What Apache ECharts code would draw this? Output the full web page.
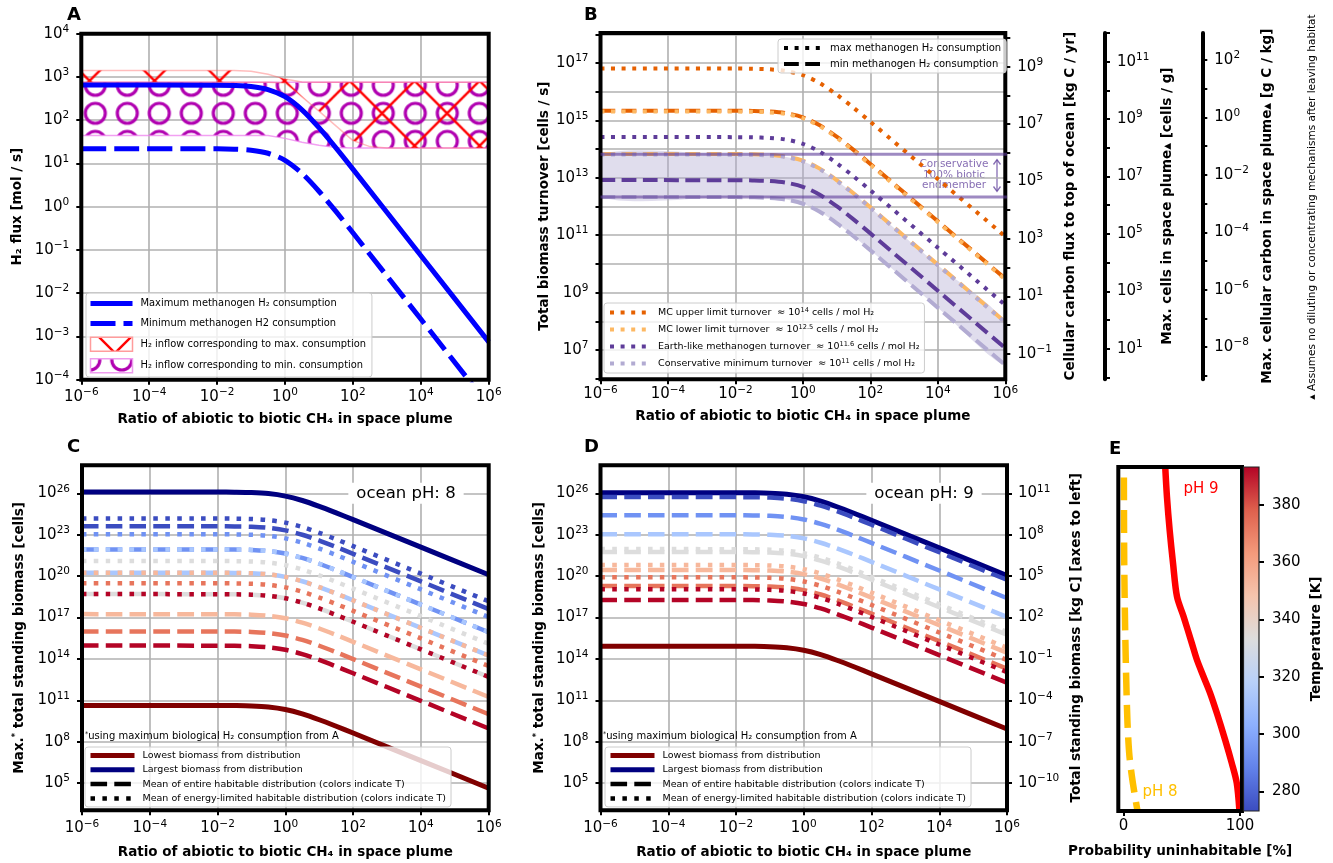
<!DOCTYPE html>
<html>
<head>
<meta charset="utf-8">
<title>Methanogen biomass figure</title>
<script src="https://cdn.jsdelivr.net/npm/echarts@6.0.0/dist/echarts.min.js"></script>
<style>
html, body { margin: 0; padding: 0; background: #ffffff; }
#chart { width: 1333px; height: 863px; }
</style>
</head>
<body>
<div id="chart"></div>
<script>
// ===================== DATA (log10 units) =====================
// x: log10 of ratio of abiotic to biotic CH4 in space plume
const log10Ratio = [-6, -2, -1.5, -1, -0.5, 0, 0.5, 1, 1.5, 2, 4, 6];
const ratioTicks = [-6, -4, -2, 0, 2, 4, 6];

// Panel A: log10 H2 flux [mol/s]
const aMaxConsumption = [2.813, 2.809, 2.801, 2.777, 2.707, 2.543, 2.240, 1.828, 1.361, 0.869, -1.127, -3.126];
const aMinConsumption = [1.342, 1.338, 1.330, 1.306, 1.236, 1.072, 0.769, 0.357, -0.110, -0.602, -2.598, -4.597];
const aBandRatio = [-6, -1.5, -1, -0.5, 0, 0.5, 1, 1.5, 2, 2.5, 3, 6];
const aInflowMaxUpper = [3.147, 3.147, 3.13, 3.06, 2.95, 2.885, 2.878, 2.877, 2.877, 2.877, 2.877, 2.877];
const aInflowMaxLower = [2.877, 2.877, 2.877, 2.877, 2.86, 2.54, 2.21, 1.87, 1.53, 1.39, 1.36, 1.356];
const aInflowMinUpper = [2.877, 2.877, 2.877, 2.877, 2.877, 2.877, 2.877, 2.877, 2.877, 2.877, 2.877, 2.877];
const aInflowMinLower = [1.648, 1.648, 1.648, 1.645, 1.58, 1.49, 1.42, 1.37, 1.357, 1.356, 1.356, 1.356];
const aFluxTicks = [-4, -3, -2, -1, 0, 1, 2, 3, 4];

// Panel B: log10 total biomass turnover [cells/s]
const bUpperMax = [16.81, 16.807, 16.8, 16.78, 16.721, 16.576, 16.3, 15.902, 15.442, 14.954, 12.956, 10.956];
const bUpperMin = [15.34, 15.337, 15.33, 15.31, 15.251, 15.106, 14.83, 14.432, 13.972, 13.484, 11.486, 9.486];
const bLowerMax = [15.31, 15.307, 15.3, 15.28, 15.221, 15.076, 14.8, 14.402, 13.942, 13.454, 11.456, 9.456];
const bLowerMin = [13.83, 13.827, 13.82, 13.8, 13.741, 13.596, 13.32, 12.922, 12.462, 11.974, 9.976, 7.976];
const bEarthMax = [14.42, 14.417, 14.41, 14.39, 14.331, 14.186, 13.91, 13.512, 13.052, 12.564, 10.566, 8.566];
const bEarthMin = [12.92, 12.917, 12.91, 12.89, 12.831, 12.686, 12.41, 12.012, 11.552, 11.064, 9.066, 7.066];
const bConsMax = [13.81, 13.807, 13.8, 13.78, 13.721, 13.576, 13.3, 12.902, 12.442, 11.954, 9.956, 7.956];
const bConsMin = [12.33, 12.327, 12.32, 12.3, 12.241, 12.096, 11.82, 11.422, 10.962, 10.474, 8.476, 6.476];
const bEndmember = [13.82, 12.33];
const bEndmemberRatio = [-6, 11.83];
const bTurnoverTicks = [6, 7, 8, 9, 10, 11, 12, 13, 14, 15, 16, 17, 18];
const bTurnoverLabels = [7, 9, 11, 13, 15, 17];
const bCarbonFluxTicks = [-1, 0, 1, 2, 3, 4, 5, 6, 7, 8, 9, 10];
const bCarbonFluxLabels = [-1, 1, 3, 5, 7, 9];
const bCellsTicks = [0, 1, 2, 3, 4, 5, 6, 7, 8, 9, 10, 11, 12];
const bCellsLabels = [1, 3, 5, 7, 9, 11];
const bCarbonKgTicks = [-9, -8, -7, -6, -5, -4, -3, -2, -1, 0, 1, 2];
const bCarbonKgLabels = [-8, -6, -4, -2, 0, 2];

// Panel C (ocean pH 8): log10 total standing biomass [cells]
const cLargest = [26.1, 26.096, 26.086, 26.059, 25.981, 25.799, 25.48, 25.059, 24.587, 24.096, 22.1, 20.1];
const cLowest = [10.64, 10.636, 10.626, 10.599, 10.521, 10.339, 10.02, 9.599, 9.127, 8.636, 6.64, 4.64];
const cMeanAll = [
  [23.62, 23.616, 23.606, 23.579, 23.501, 23.319, 23.0, 22.579, 22.107, 21.616, 19.62, 17.62],
  [21.94, 21.936, 21.926, 21.899, 21.821, 21.639, 21.32, 20.899, 20.427, 19.936, 17.94, 15.94],
  [20.25, 20.246, 20.236, 20.209, 20.131, 19.949, 19.63, 19.209, 18.737, 18.246, 16.25, 14.25],
  [18.7, 18.696, 18.686, 18.659, 18.581, 18.399, 18.08, 17.659, 17.187, 16.696, 14.7, 12.7],
  [17.25, 17.246, 17.236, 17.209, 17.131, 16.949, 16.63, 16.209, 15.737, 15.246, 13.25, 11.25],
  [16.0, 15.996, 15.986, 15.959, 15.881, 15.699, 15.38, 14.959, 14.487, 13.996, 12.0, 10.0],
  [14.97, 14.966, 14.956, 14.929, 14.851, 14.669, 14.35, 13.929, 13.457, 12.966, 10.97, 8.97]
];
const cMeanEnergy = [
  [24.18, 24.176, 24.166, 24.139, 24.061, 23.879, 23.56, 23.139, 22.667, 22.176, 20.18, 18.18],
  [23.04, 23.036, 23.026, 22.999, 22.921, 22.739, 22.42, 21.999, 21.527, 21.036, 19.04, 17.04],
  [21.94, 21.936, 21.926, 21.899, 21.821, 21.639, 21.32, 20.899, 20.427, 19.936, 17.94, 15.94],
  [21.1, 21.096, 21.086, 21.059, 20.981, 20.799, 20.48, 20.059, 19.587, 19.096, 17.1, 15.1],
  [20.25, 20.246, 20.236, 20.209, 20.131, 19.949, 19.63, 19.209, 18.737, 18.246, 16.25, 14.25],
  [19.49, 19.486, 19.476, 19.449, 19.371, 19.189, 18.87, 18.449, 17.977, 17.486, 15.49, 13.49],
  [18.7, 18.696, 18.686, 18.659, 18.581, 18.399, 18.08, 17.659, 17.187, 16.696, 14.7, 12.7]
];

// Panel D (ocean pH 9)
const dLargest = [26.05, 26.046, 26.036, 26.009, 25.931, 25.749, 25.43, 25.009, 24.537, 24.046, 22.05, 20.05];
const dLowest = [14.93, 14.926, 14.916, 14.889, 14.811, 14.629, 14.31, 13.889, 13.417, 12.926, 10.93, 8.93];
const dMeanAll = [
  [25.73, 25.726, 25.716, 25.689, 25.611, 25.429, 25.11, 24.689, 24.217, 23.726, 21.73, 19.73],
  [24.41, 24.406, 24.396, 24.369, 24.291, 24.109, 23.79, 23.369, 22.897, 22.406, 20.41, 18.41],
  [23.04, 23.036, 23.026, 22.999, 22.921, 22.739, 22.42, 21.999, 21.527, 21.036, 19.04, 17.04],
  [21.75, 21.746, 21.736, 21.709, 21.631, 21.449, 21.13, 20.709, 20.237, 19.746, 17.75, 15.75],
  [20.45, 20.446, 20.436, 20.409, 20.331, 20.149, 19.83, 19.409, 18.937, 18.446, 16.45, 14.45],
  [19.29, 19.286, 19.276, 19.249, 19.171, 18.989, 18.67, 18.249, 17.777, 17.286, 15.29, 13.29],
  [18.28, 18.276, 18.266, 18.239, 18.161, 17.979, 17.66, 17.239, 16.767, 16.276, 14.28, 12.28]
];
const dMeanEnergy = [
  null, null, null,
  [21.96, 21.956, 21.946, 21.919, 21.841, 21.659, 21.34, 20.919, 20.447, 19.956, 17.96, 15.96],
  [20.81, 20.806, 20.796, 20.769, 20.691, 20.509, 20.19, 19.769, 19.297, 18.806, 16.81, 14.81],
  [19.92, 19.916, 19.906, 19.879, 19.801, 19.619, 19.3, 18.879, 18.407, 17.916, 15.92, 13.92],
  [19.05, 19.046, 19.036, 19.009, 18.931, 18.749, 18.43, 18.009, 17.537, 17.046, 15.05, 13.05]
];
const biomassTicks = [5, 8, 11, 14, 17, 20, 23, 26];
const carbonTicks = [-10, -7, -4, -1, 2, 5, 8, 11];

// Panel E: probability uninhabitable [%] vs temperature [K]
const eProbPH9 = [35.8, 37.3, 39.6, 42.5, 45.9, 51.6, 58.7, 63.0, 68.7, 74.4, 80.1, 87.2, 92.9, 97.2, 99.5];
const eTempPH9 = [393.15, 382.6, 371.1, 359.5, 347.9, 340.9, 331.6, 325.9, 320.0, 314.2, 307.3, 298.0, 289.9, 282.9, 273.15];
const eProbPH8 = [0.3, 0.6, 1.4, 2.3, 3.4, 5.1, 8.0, 12.0];
const eTempPH8 = [389.5, 359.5, 336.3, 319.0, 303.8, 292.2, 282.9, 273.15];
const probTicks = [0, 100];
const tempRange = [273.15, 393.15];
const tempTicks = [280, 300, 320, 340, 360, 380];

// ===================== STYLE =====================
const FONT = 'DejaVu Sans';
const BLACK = '#000000';
const GRIDC = '#b0b0b0';
const tempColors = ['#3b4cc0', '#7092f3', '#aac7fe', '#dddddd', '#f7b89c', '#e7755c', '#b40426'];
const DASH_A = [25, 8], DOT_B = [4, 6.6], DASH_B = [14.8, 6.4], DOT_C = [4.5, 7.4], DASH_C = [16.6, 7.2], DASH_E = [23, 9.5];

function supStr(n) { return n < 0 ? '\u2212' + String(-n) : String(n); }
function decade(v) { return '{b|10}{s|' + supStr(Math.round(v)) + '}'; }
function plain(v) { return String(Math.round(v)); }
const tickRich = {
  b: { fontFamily: FONT, fontSize: 15, lineHeight: 20, color: BLACK },
  s: { fontFamily: FONT, fontSize: 10.5, lineHeight: 9, verticalAlign: 'top', color: BLACK }
};
const nameStyle = {
  fontFamily: FONT, fontSize: 13.5, fontWeight: 'bold', color: BLACK,
  rich: { st: { fontFamily: FONT, fontSize: 8, fontWeight: 'bold', lineHeight: 8, verticalAlign: 'top', color: BLACK } }
};

function mkAxis(o) {
  return {
    type: 'value', gridIndex: o.grid, min: o.min, max: o.max, position: o.position, offset: o.offset || 0, z: 1,
    axisLine: { show: !!o.line, onZero: false, lineStyle: { color: BLACK, width: 4 } },
    axisTick: o.ticks ? { show: true, inside: false, length: 5, customValues: o.ticks, lineStyle: { color: BLACK, width: 2 } } : { show: false },
    axisLabel: o.labels ? { show: true, customValues: o.labels, formatter: o.fmt || decade, rich: tickRich, color: BLACK,
      fontFamily: FONT, fontSize: 15, margin: o.margin, showMinLabel: true, showMaxLabel: true } : { show: false },
    splitLine: { show: !!o.split, lineStyle: { color: GRIDC, width: 1.6 } },
    name: o.name || '', nameLocation: 'middle', nameGap: o.nameGap || 0, nameMoveOverlap: false,
    nameRotate: o.rot, nameTextStyle: nameStyle, silent: true
  };
}

function line(name, xi, yi, xs, ys, color, width, dash, z) {
  return {
    type: 'line', name: name, xAxisIndex: xi, yAxisIndex: yi,
    data: ys ? xs.map((x, i) => [x, ys[i]]) : [],
    symbol: 'none', showSymbol: false, smooth: 0.3, z: z || 2, silent: true, animation: false,
    lineStyle: { color: color, width: width, type: dash || 'solid', cap: 'butt', join: 'round' },
    itemStyle: { color: color }, emphasis: { disabled: true }
  };
}

function band(name, xi, yi, xs, up, lo, style, z, smooth) {
  return {
    type: 'custom', name: name, xAxisIndex: xi, yAxisIndex: yi, coordinateSystem: 'cartesian2d',
    data: xs.map((x, i) => [x, up[i], lo[i]]), encode: { x: 0, y: [1, 2] },
    clip: true, silent: true, animation: false, z: z, itemStyle: { color: style.fill },
    renderItem: function (params, api) {
      if (params.dataIndex !== 0) return null;
      const pts = [];
      for (let i = 0; i < xs.length; i++) pts.push(api.coord([xs[i], up[i]]));
      for (let i = xs.length - 1; i >= 0; i--) pts.push(api.coord([xs[i], lo[i]]));
      return { type: 'polygon', shape: { points: pts, smooth: smooth || 0 }, style: style };
    }
  };
}

// hatch patterns
function hatchX() {
  const c = document.createElement('canvas'); c.width = 65; c.height = 65;
  const g = c.getContext('2d'); g.strokeStyle = '#ff0000'; g.lineWidth = 2.4;
  g.beginPath();
  for (const d of [-65, 0, 65]) { g.moveTo(d, 0); g.lineTo(d + 65, 65); g.moveTo(d + 65, 0); g.lineTo(d, 65); }
  g.stroke(); return c;
}
function hatchO() {
  const c = document.createElement('canvas'); c.width = 32; c.height = 28;
  const g = c.getContext('2d'); g.strokeStyle = '#b000b0'; g.lineWidth = 3.2;
  g.beginPath(); g.arc(16, 14, 10, 0, Math.PI * 2); g.stroke(); return c;
}
const patX = { image: hatchX(), repeat: 'repeat', x: 24.5, y: 15.8 };
const patO = { image: hatchO(), repeat: 'repeat', x: 15.3, y: 15.3 };

const legendText = {
  aMax: 'Maximum methanogen H\u2082 consumption',
  aMin: 'Minimum methanogen H2 consumption',
  aInflowMax: 'H\u2082 inflow corresponding to max. consumption',
  aInflowMin: 'H\u2082 inflow corresponding to min. consumption',
  bMaxCons: 'max methanogen H\u2082 consumption',
  bMinCons: 'min methanogen H\u2082 consumption',
  bUpper: 'MC upper limit turnover  \u2248 10{sup|14} cells / mol H\u2082',
  bLower: 'MC lower limit turnover  \u2248 10{sup|12.5} cells / mol H\u2082',
  bEarth: 'Earth-like methanogen turnover  \u2248 10{sup|11.6} cells / mol H\u2082',
  bCons: 'Conservative minimum turnover  \u2248 10{sup|11} cells / mol H\u2082',
  cLowest: 'Lowest biomass from distribution', dLowest: 'Lowest biomass from distribution',
  cLargest: 'Largest biomass from distribution', dLargest: 'Largest biomass from distribution',
  cMeanAll: 'Mean of entire habitable distribution (colors indicate T)', dMeanAll: 'Mean of entire habitable distribution (colors indicate T)',
  cMeanEnergy: 'Mean of energy-limited habitable distribution (colors indicate T)', dMeanEnergy: 'Mean of energy-limited habitable distribution (colors indicate T)'
};
function mkLegend(data, left, top, iw, ih, gap, fs, pad) {
  return {
    data: data, left: left, top: top, orient: 'vertical', align: 'left',
    itemWidth: iw, itemHeight: ih, itemGap: gap, padding: pad,
    backgroundColor: 'rgba(255,255,255,0.8)', borderColor: '#cccccc', borderWidth: 1, borderRadius: 3,
    selectedMode: false, z: 6, formatter: n => legendText[n],
    itemStyle: { opacity: 0 },
    lineStyle: { width: 'inherit', type: 'inherit', color: 'inherit', opacity: 1, cap: 'butt' },
    textStyle: { fontFamily: FONT, fontSize: fs, color: BLACK, lineHeight: ih, padding: [0, 0, 0, 3],
      rich: { sup: { fontFamily: FONT, fontSize: fs * 0.7, lineHeight: fs * 0.7, verticalAlign: 'top', color: BLACK } } }
  };
}

const XNAME = 'Ratio of abiotic to biotic CH\u2084 in space plume';
const G = { show: true, borderColor: BLACK, borderWidth: 4, backgroundColor: 'rgba(0,0,0,0)', z: 3, containLabel: false, outerBoundsMode: 'none' };

// ===================== SERIES =====================
const series = [];
// A
series.push(band('aInflowMin', 0, 0, aBandRatio, aInflowMinUpper, aInflowMinLower, { fill: patO, stroke: 'rgba(238,130,238,0.75)', lineWidth: 1.5 }, 1.6));
series.push(band('aInflowMax', 0, 0, aBandRatio, aInflowMaxUpper, aInflowMaxLower, { fill: patX, stroke: 'rgba(255,90,90,0.4)', lineWidth: 1.5 }, 1.7));
series.push(line('aMax', 0, 0, log10Ratio, aMaxConsumption, '#0000ff', 5, 'solid'));
series.push(line('aMin', 0, 0, log10Ratio, aMinConsumption, '#0000ff', 5, DASH_A));
// B
series.push(band('bConsBand', 1, 1, log10Ratio, bConsMax, bConsMin, { fill: 'rgba(178,171,210,0.4)', stroke: null }, 1.6, 0.3));
const bSets = [
  ['bUpper', bUpperMax, bUpperMin, '#e66101'],
  ['bLower', bLowerMax, bLowerMin, '#fdb863'],
  ['bEarth', bEarthMax, bEarthMin, '#5e3c99'],
  ['bCons', bConsMax, bConsMin, '#b2abd2']
];
bSets.forEach(s => {
  series.push(line(s[0], 1, 1, log10Ratio, s[1], s[3], 4, DOT_B));
  series.push(line(s[0] + 'MinCons', 1, 1, log10Ratio, s[2], s[3], 4, DASH_B));
});
bEndmember.forEach((v, i) => {
  const s = line('bEndmember' + i, 1, 1, bEndmemberRatio, [v, v], 'rgba(94,60,153,0.6)', 3, 'solid', 5);
  s.clip = false; s.smooth = false; series.push(s);
});
series.push(line('bMaxCons', 1, 1, [], null, BLACK, 4, DOT_B));
series.push(line('bMinCons', 1, 1, [], null, BLACK, 4, DASH_B));
// C
series.push(line('cLowest', 2, 5, log10Ratio, cLowest, '#800000', 5, 'solid'));
series.push(line('cLargest', 2, 5, log10Ratio, cLargest, '#000080', 5, 'solid'));
cMeanAll.forEach((ys, i) => series.push(line('cAll' + i, 2, 5, log10Ratio, ys, tempColors[i], 4.5, DASH_C)));
cMeanEnergy.forEach((ys, i) => series.push(line('cEnergy' + i, 2, 5, log10Ratio, ys, tempColors[i], 4.5, DOT_C)));
series.push(line('cMeanAll', 2, 5, [], null, BLACK, 4.5, DASH_C));
series.push(line('cMeanEnergy', 2, 5, [], null, BLACK, 4.5, DOT_C));
// D
series.push(line('dLowest', 3, 6, log10Ratio, dLowest, '#800000', 5, 'solid'));
series.push(line('dLargest', 3, 6, log10Ratio, dLargest, '#000080', 5, 'solid'));
dMeanAll.forEach((ys, i) => series.push(line('dAll' + i, 3, 6, log10Ratio, ys, tempColors[i], 4.5, DASH_C)));
dMeanEnergy.forEach((ys, i) => { if (ys) series.push(line('dEnergy' + i, 3, 6, log10Ratio, ys, tempColors[i], 4.5, DOT_C)); });
series.push(line('dMeanAll', 3, 6, [], null, BLACK, 4.5, DASH_C));
series.push(line('dMeanEnergy', 3, 6, [], null, BLACK, 4.5, DOT_C));
// E
series.push(line('ePH9', 4, 8, eProbPH9, eTempPH9, '#ff0000', 6.5, 'solid'));
series.push(line('ePH8', 4, 8, eProbPH8, eTempPH8, '#ffc000', 6.5, DASH_E));
// colour bar (stacked: transparent base + gradient span)
series.push({ type: 'bar', name: 'cbBase', xAxisIndex: 5, yAxisIndex: 9, stack: 'cb', data: [tempRange[0]], barWidth: '100%',
  itemStyle: { color: 'rgba(0,0,0,0)' }, silent: true, animation: false });
series.push({ type: 'bar', name: 'cbSpan', xAxisIndex: 5, yAxisIndex: 9, stack: 'cb', data: [tempRange[1] - tempRange[0]], barWidth: '100%',
  silent: true, animation: false,
  itemStyle: { color: { type: 'linear', x: 0, y: 1, x2: 0, y2: 0, colorStops: [
    { offset: 0, color: '#3b4cc0' }, { offset: 0.125, color: '#6282ea' }, { offset: 0.25, color: '#8db0fe' },
    { offset: 0.375, color: '#b8d0f9' }, { offset: 0.5, color: '#dddddd' }, { offset: 0.625, color: '#f5c4ad' },
    { offset: 0.75, color: '#f49a7b' }, { offset: 0.875, color: '#de604d' }, { offset: 1, color: '#b40426' } ] } } });

// ===================== TEXT / ANNOTATIONS =====================
const PURP = 'rgba(94,60,153,0.75)';
function txt(x, y, text, size, color, extra) {
  return Object.assign({ type: 'text', x: x, y: y, z: 20, silent: true,
    style: Object.assign({ text: text, fontFamily: FONT, fontSize: size, fill: color, align: 'center', verticalAlign: 'middle' }, (extra && extra.style) || {}) },
    extra && extra.el ? extra.el : {});
}
const footRich = { a: { fontFamily: FONT, fontSize: 6.5, lineHeight: 6, verticalAlign: 'top', fill: BLACK, color: BLACK } };
const graphics = [
  txt(954, 164.3, 'Conservative', 10.5, PURP, { el: { z: 1 } }),
  txt(954, 175, '100% biotic', 10.5, PURP, { el: { z: 1 } }),
  txt(954, 185.7, 'endmember', 10.5, PURP, { el: { z: 1 } }),
  { type: 'line', z: 1, silent: true, shape: { x1: 997, y1: 160, x2: 997, y2: 191 }, style: { stroke: PURP, lineWidth: 1.3 } },
  { type: 'polyline', z: 1, silent: true, shape: { points: [[993.5, 164.5], [997, 159.6], [1000.5, 164.5]] }, style: { stroke: PURP, lineWidth: 1.3, fill: null } },
  { type: 'polyline', z: 1, silent: true, shape: { points: [[993.5, 186.5], [997, 191.4], [1000.5, 186.5]] }, style: { stroke: PURP, lineWidth: 1.3, fill: null } },
  txt(406, 493.3, 'ocean pH: 8', 16.5, BLACK, { style: { backgroundColor: '#ffffff', padding: [2, 8] } }),
  txt(924, 493.3, 'ocean pH: 9', 16.5, BLACK, { style: { backgroundColor: '#ffffff', padding: [2, 8] } }),
  txt(1201, 489, 'pH 9', 15, '#ff0000'),
  txt(1160, 791.7, 'pH 8', 15, '#ffc000'),
  txt(85, 736, '{a|*}using maximum biological H\u2082 consumption from A', 10, BLACK, { style: { align: 'left', rich: footRich } }),
  txt(603, 736, '{a|*}using maximum biological H\u2082 consumption from A', 10, BLACK, { style: { align: 'left', rich: footRich } }),
  txt(1312, 207, '\u25B4 Assumes no diluting or concentrating mechanisms after leaving habitat', 10.5, BLACK, { el: { rotation: Math.PI / 2 } })
];

const letter = (t, l, tp) => ({ text: t, left: l, top: tp, padding: 0, textStyle: { fontFamily: FONT, fontWeight: 'bold', fontSize: 18, color: BLACK } });

const option = {
  animation: false,
  backgroundColor: '#ffffff',
  textStyle: { fontFamily: FONT },
  title: [letter('A', 67, 6), letter('B', 584, 6), letter('C', 67, 438), letter('D', 584, 438), letter('E', 1109, 440)],
  grid: [
    Object.assign({ left: 81.3, top: 33.7, width: 407.4, height: 346 }, G),
    Object.assign({ left: 600.5, top: 33, width: 404.8, height: 346.3 }, G),
    Object.assign({ left: 82, top: 465.3, width: 406.7, height: 345 }, G),
    Object.assign({ left: 600.5, top: 465.3, width: 406.5, height: 345 }, G),
    Object.assign({ left: 1118.3, top: 467, width: 123.7, height: 344 }, G),
    { left: 1243.5, top: 467, width: 15.5, height: 344, show: true, borderColor: '#222222', borderWidth: 1.2, z: 3, backgroundColor: 'rgba(0,0,0,0)', containLabel: false, outerBoundsMode: 'none' }
  ],
  xAxis: [
    mkAxis({ grid: 0, min: -6, max: 6, position: 'bottom', ticks: ratioTicks, labels: ratioTicks, split: true, margin: 7, name: XNAME, nameGap: 33 }),
    mkAxis({ grid: 1, min: -6, max: 6, position: 'bottom', ticks: ratioTicks, labels: ratioTicks, split: true, margin: 5, name: XNAME, nameGap: 30 }),
    mkAxis({ grid: 2, min: -6, max: 6, position: 'bottom', ticks: ratioTicks, labels: ratioTicks, split: true, margin: 8, name: XNAME, nameGap: 35 }),
    mkAxis({ grid: 3, min: -6, max: 6, position: 'bottom', ticks: ratioTicks, labels: ratioTicks, split: true, margin: 8, name: XNAME, nameGap: 35 }),
    mkAxis({ grid: 4, min: -4.5, max: 101.7, position: 'bottom', ticks: probTicks, labels: probTicks, fmt: plain, margin: 8, name: 'Probability uninhabitable [%]', nameGap: 33 }),
    { type: 'category', gridIndex: 5, data: ['T'], show: false }
  ],
  yAxis: [
    mkAxis({ grid: 0, min: -4, max: 4, position: 'left', ticks: aFluxTicks, labels: aFluxTicks, split: true, margin: 12, name: 'H\u2082 flux [mol / s]', nameGap: 57 }),
    mkAxis({ grid: 1, min: 5.98, max: 18.045, position: 'left', ticks: bTurnoverTicks, labels: bTurnoverLabels, split: true, margin: 12, name: 'Total biomass turnover [cells / s]', nameGap: 49 }),
    mkAxis({ grid: 1, min: -1.89, max: 10.175, position: 'right', ticks: bCarbonFluxTicks, labels: bCarbonFluxLabels, margin: 12, name: 'Cellular carbon flux to top of ocean [kg C / yr]', nameGap: 58, rot: 90 }),
    mkAxis({ grid: 1, min: -0.065, max: 12.0, position: 'right', offset: 99.7, line: true, ticks: bCellsTicks, labels: bCellsLabels, margin: 12, name: 'Max. cells in space plume\u25B4 [cells / g]', nameGap: 55, rot: 90 }),
    mkAxis({ grid: 1, min: -9.12, max: 2.945, position: 'right', offset: 197, line: true, ticks: bCarbonKgTicks, labels: bCarbonKgLabels, margin: 12, name: 'Max. cellular carbon in space plume\u25B4 [g C / kg]', nameGap: 58, rot: 90 }),
    mkAxis({ grid: 2, min: 3.04, max: 28.03, position: 'left', ticks: biomassTicks, labels: biomassTicks, split: true, margin: 12, name: 'Max.{st|*} total standing biomass [cells]', nameGap: 56 }),
    mkAxis({ grid: 3, min: 3.04, max: 28.03, position: 'left', ticks: biomassTicks, labels: biomassTicks, split: true, margin: 12, name: 'Max.{st|*} total standing biomass [cells]', nameGap: 54 }),
    mkAxis({ grid: 3, min: -11.96, max: 13.03, position: 'right', ticks: carbonTicks, labels: carbonTicks, margin: 11, name: 'Total standing biomass [kg C] [axes to left]', nameGap: 62, rot: 90 }),
    mkAxis({ grid: 4, min: tempRange[0], max: tempRange[1], position: 'left' }),
    mkAxis({ grid: 5, min: tempRange[0], max: tempRange[1], position: 'right', ticks: tempTicks, labels: tempTicks, fmt: plain, margin: 13, name: 'Temperature [K]', nameGap: 50, rot: 90 })
  ],
  legend: [
    mkLegend(['aMax', 'aMin',
      { name: 'aInflowMax', icon: 'rect', itemStyle: { color: patX, borderColor: '#ff9c9c', borderWidth: 1.5, opacity: 1 } },
      { name: 'aInflowMin', icon: 'rect', itemStyle: { color: patO, borderColor: '#ee9cee', borderWidth: 1.5, opacity: 1 } }],
      86, 293, 42, 14, 6, 9.9, [3.5, 6, 3.5, 2]),
    mkLegend(['bMaxCons', 'bMinCons'], 778, 39, 38, 10, 6, 10, [4, 5, 4, 4]),
    mkLegend(['bUpper', 'bLower', 'bEarth', 'bCons'], 604, 303, 40, 11, 6, 9.5, [4, 5, 4, 4]),
    mkLegend(['cLowest', 'cLargest', 'cMeanAll', 'cMeanEnergy'], 85, 747, 44, 10, 4.3, 9.5, [3.5, 5, 3.5, 3]),
    mkLegend(['dLowest', 'dLargest', 'dMeanAll', 'dMeanEnergy'], 605, 747, 44, 10, 4.3, 9.5, [3.5, 5, 3.5, 3])
  ],
  graphic: { elements: graphics },
  series: series
};

const chart = echarts.init(document.getElementById('chart'), null, { renderer: 'canvas', width: 1333, height: 863 });
chart.setOption(option);
</script>
</body>
</html>
